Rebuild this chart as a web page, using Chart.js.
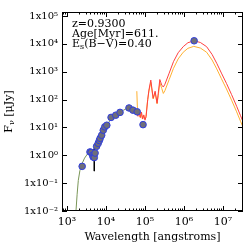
<!DOCTYPE html>
<html>
<head>
<meta charset="utf-8">
<script src="https://cdn.jsdelivr.net/npm/chart.js@4.4.0/dist/chart.umd.min.js"></script>
<style>
    html, body { margin: 0; padding: 0; background: #fff; }
    #wrap { width: 249px; height: 249px; }
</style>
</head>
<body>
<div id="wrap"><canvas id="sedChart" width="249" height="249"></canvas></div>
<script>
// tick exponents
const xTickExps = [3, 4, 5, 6, 7];
const yTickExps = [-2, -1, 0, 1, 2, 3, 4, 5];

// observed photometry (angstroms, microJy)
const obsWave = [2450, 3890, 4170, 4570, 4680, 5010, 5250, 5750, 6310, 6760, 7080, 7760, 8510, 9330,
    10500, 13500, 17800, 22900, 38900, 49000, 63100, 89100, 1820000];
const obsFlux = [0.40, 1.32, 1.26, 1.0, 0.87, 0.83, 1.2, 2.09, 2.69, 3.4, 4.07, 5.25, 7.94, 10.5,
    12.0, 22.9, 27.5, 34.7, 50.0, 41.7, 36.3, 12.6, 12900];

// one error bar
const errWave = [5010, 5010];
const errFlux = [1.78, 0.27];

// stellar model
const starWave = [1700, 1820, 1950, 2140, 2400, 2820, 3470, 4170, 5010, 6030, 7240, 8710, 10500,
    12600, 15800, 20000, 28200, 39800, 52500, 66100];
const starFlux = [0.01, 0.04, 0.126, 0.28, 0.48, 0.79, 1.2, 1.45, 1.66, 2.63, 4.47, 7.94, 11.7,
    17.8, 24.0, 31.6, 41.7, 53.7, 45.7, 35.5];

// dust model (red)
const dustWave = [60300, 66100, 70800, 75900, 81300, 87100, 93300, 100000, 107000, 117500, 126000,
    141000, 162000, 182000, 204000, 219000, 240000, 269000, 295000, 324000, 417000, 537000, 708000,
    955000, 1260000, 1820000, 2630000, 3800000, 5250000, 6920000, 9120000, 12300000, 16600000,
    22400000, 28200000, 35500000];
const dustFlux = [35.5, 25.1, 41.7, 22.4, 35.5, 20.0, 28.2, 18.2, 25.1, 100, 219,
    501, 112, 200, 74, 170, 525, 331, 282, 355, 891, 2290, 4790,
    7940, 11000, 12900, 11200, 7940, 4170, 2000, 891, 380, 151,
    57.5, 26.3, 12.0];

// second dust model (orange)
const dust2Wave = [61700, 64600, 69200, 74100, 79400, 85100, 91200, 97700, 105000, 115000, 126000,
    141000, 162000, 182000, 204000, 219000, 240000, 269000, 295000, 324000, 417000, 537000, 708000,
    955000, 1260000, 1780000, 2630000, 3800000, 5250000, 6920000, 9120000, 12300000, 16600000,
    22400000, 28200000, 35500000];
const dust2Flux = [200, 31.6, 39.8, 24.0, 33.1, 20.9, 26.3, 20.0, 22.4, 79.4, 200,
    417, 105, 178, 70.8, 141, 398, 251, 166, 209, 525, 1320, 2880,
    5010, 6920, 8130, 7080, 5010, 2630, 1260, 562, 240, 95.5,
    36.3, 16.6, 7.6];

const infoLines = ['z=0.9300', 'Age[Myr]=611.'];

const supMap = { '-': '\u207B', '0': '\u2070', '1': '\u00B9', '2': '\u00B2', '3': '\u00B3',
    '4': '\u2074', '5': '\u2075', '6': '\u2076', '7': '\u2077', '8': '\u2078', '9': '\u2079' };
function toSup(n) {
    return String(n).split('').map(c => supMap[c]).join('');
}
function pts(xs, ys) {
    return xs.map((v, i) => ({ x: v, y: ys[i] }));
}

const serif = 'DejaVu Serif';

// box frame, inward ticks and the text labels
const frameTicks = {
    id: 'frameTicks',
    afterDraw(chart) {
        const { ctx, chartArea: a, scales: { x, y } } = chart;
        ctx.save();
        ctx.strokeStyle = '#000';
        ctx.lineWidth = 1;
        ctx.strokeRect(a.left + 0.5, a.top + 0.5, a.right - a.left - 1, a.bottom - a.top - 1);
        ctx.beginPath();
        for (let e = 2; e <= 7; e++) {
            for (let k = 1; k < 10; k++) {
                const v = k * Math.pow(10, e);
                if (v < x.min || v > x.max) continue;
                const px = Math.round(x.getPixelForValue(v)) + 0.5;
                const len = k === 1 ? 5 : 2.5;
                ctx.moveTo(px, a.bottom); ctx.lineTo(px, a.bottom - len);
                ctx.moveTo(px, a.top); ctx.lineTo(px, a.top + len);
            }
        }
        yTickExps.forEach(e => {
            const py = Math.round(y.getPixelForValue(Math.pow(10, e))) + 0.5;
            ctx.moveTo(a.left, py); ctx.lineTo(a.left + 5, py);
            ctx.moveTo(a.right, py); ctx.lineTo(a.right - 5, py);
        });
        ctx.stroke();

        // info text
        ctx.fillStyle = '#000';
        ctx.textBaseline = 'middle';
        ctx.textAlign = 'left';
        ctx.font = '11px "' + serif + '"';
        const tx = a.left + 10;
        ctx.fillText(infoLines[0], tx, 24);
        ctx.fillText(infoLines[1], tx, 34);
        ctx.fillText('E', tx, 44);
        let w = ctx.measureText('E').width;
        ctx.font = '8px "' + serif + '"';
        ctx.fillText('s', tx + w, 47);
        w += ctx.measureText('s').width;
        ctx.font = '11px "' + serif + '"';
        ctx.fillText('(B\u2212V)=0.40', tx + w, 44);

        // y title, rotated
        ctx.translate(9, (a.top + a.bottom) / 2);
        ctx.rotate(-Math.PI / 2);
        ctx.font = '11px "' + serif + '"';
        const wF = ctx.measureText('F').width;
        const wR = ctx.measureText(' [\u03BCJy]').width;
        ctx.font = '8px "' + serif + '"';
        const wN = ctx.measureText('\u03BD').width;
        let sx = -(wF + wN + wR) / 2;
        ctx.font = '11px "' + serif + '"';
        ctx.fillText('F', sx, 0);
        ctx.font = '8px "' + serif + '"';
        ctx.fillText('\u03BD', sx + wF, 3);
        ctx.font = '11px "' + serif + '"';
        ctx.fillText(' [\u03BCJy]', sx + wF + wN, 0);
        ctx.restore();
    }
};

function initChart() {
    const ctx = document.getElementById('sedChart').getContext('2d');
    new Chart(ctx, {
        type: 'scatter',
        data: {
            datasets: [
                {
                    data: pts(obsWave, obsFlux),
                    backgroundColor: '#6e6e7a',
                    borderColor: '#2f3de0',
                    borderWidth: 1,
                    pointRadius: 3.3,
                    order: 0
                },
                {
                    data: pts(errWave, errFlux),
                    showLine: true,
                    borderColor: '#000',
                    borderWidth: 1,
                    pointRadius: 0,
                    order: 1
                },
                {
                    data: pts(dustWave, dustFlux),
                    showLine: true,
                    borderColor: '#ff4040',
                    borderWidth: 1,
                    pointRadius: 0,
                    order: 2
                },
                {
                    data: pts(dust2Wave, dust2Flux),
                    showLine: true,
                    borderColor: '#ffb030',
                    borderWidth: 1,
                    pointRadius: 0,
                    order: 3
                },
                {
                    data: pts(starWave, starFlux),
                    showLine: true,
                    borderColor: '#7a9657',
                    borderWidth: 1,
                    pointRadius: 0,
                    order: 4
                }
            ]
        },
        options: {
            responsive: false,
            animation: false,
            devicePixelRatio: 1,
            layout: { padding: { left: 0, right: 6, top: 12, bottom: 0 } },
            plugins: {
                legend: { display: false },
                tooltip: { enabled: false }
            },
            scales: {
                x: {
                    type: 'logarithmic',
                    min: Math.pow(10, 2.872),
                    max: Math.pow(10, 7.513),
                    afterFit: s => { s.height = 38; },
                    afterBuildTicks: s => {
                        s.ticks = xTickExps.map(e => ({ value: Math.pow(10, e) }));
                    },
                    ticks: {
                        callback: v => '10' + toSup(Math.round(Math.log10(v))),
                        font: { family: serif, size: 11 },
                        color: '#000',
                        padding: 5,
                        maxRotation: 0,
                        autoSkip: false
                    },
                    grid: { display: false, drawTicks: false },
                    border: { display: false },
                    title: {
                        display: true,
                        text: 'Wavelength [angstroms]',
                        font: { family: serif, size: 11 },
                        color: '#000',
                        padding: { top: 0, bottom: 5 }
                    }
                },
                y: {
                    type: 'logarithmic',
                    min: 0.01,
                    max: Math.pow(10, 5.144),
                    afterFit: s => { s.width = 62; },
                    afterBuildTicks: s => {
                        s.ticks = yTickExps.map(e => ({ value: Math.pow(10, e) }));
                    },
                    ticks: {
                        callback: v => '1x10' + toSup(Math.round(Math.log10(v))),
                        font: { family: serif, size: 10 },
                        color: '#000',
                        padding: 4,
                        autoSkip: false
                    },
                    grid: { display: false, drawTicks: false },
                    border: { display: false }
                }
            }
        },
        plugins: [frameTicks]
    });
}

document.addEventListener('DOMContentLoaded', initChart);
</script>
</body>
</html>
